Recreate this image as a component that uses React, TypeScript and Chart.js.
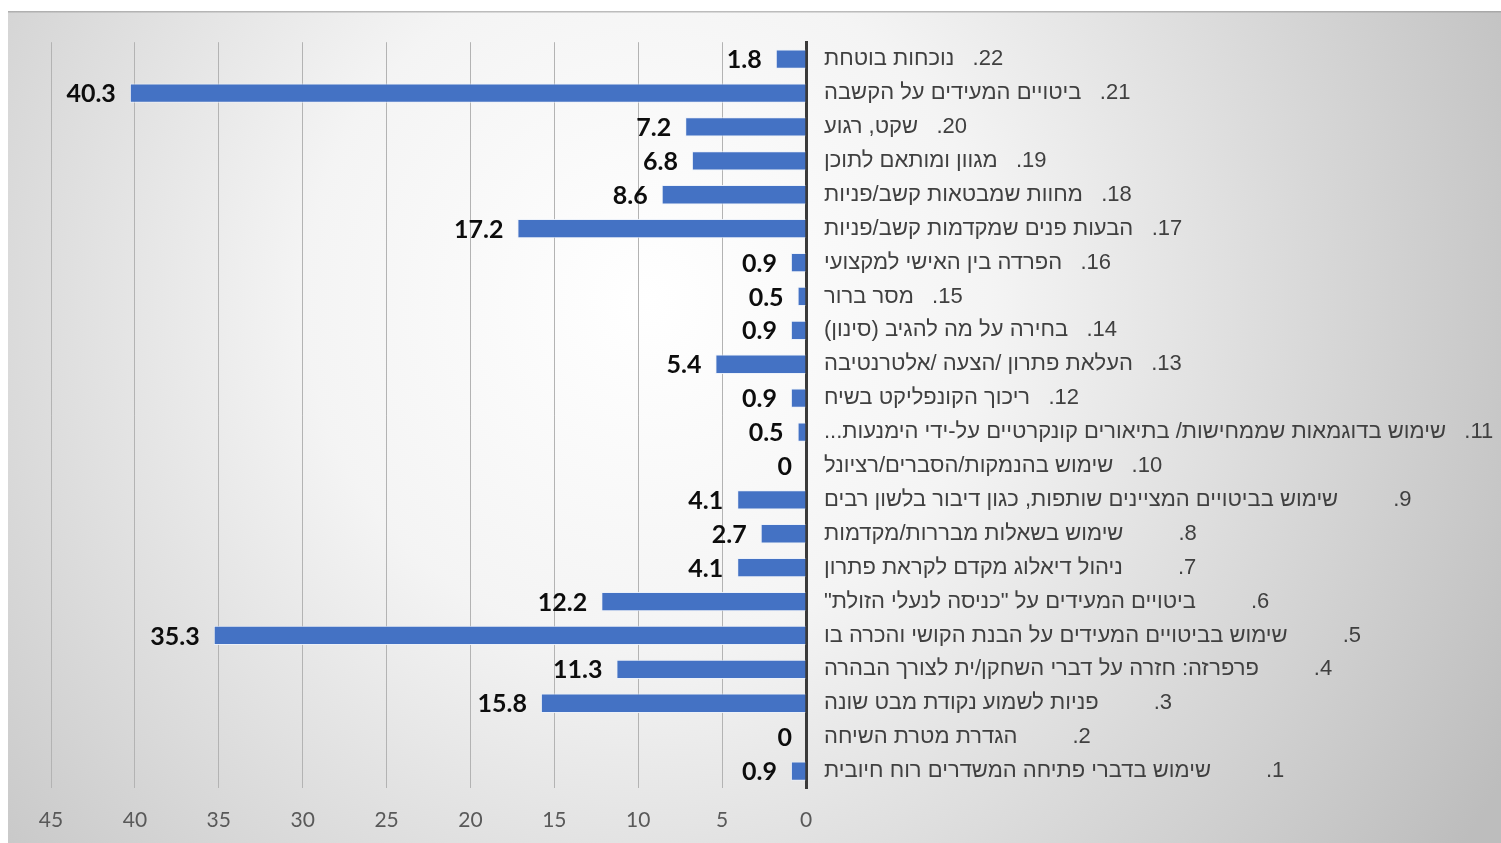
import React, { useEffect, useRef } from 'react';
import { Chart, registerables } from 'chart.js';

Chart.register(...registerables);

// Items 1..22 (item 1 at the bottom, item 22 at the top)
const itemTexts: string[] = [
  'שימוש בדברי פתיחה המשדרים רוח חיובית',
  'הגדרת מטרת השיחה',
  'פניות לשמוע נקודת מבט שונה',
  'פרפרזה: חזרה על דברי השחקן/ית לצורך הבהרה',
  'שימוש בביטויים המעידים על הבנת הקושי והכרה בו',
  'ביטויים המעידים על "כניסה לנעלי הזולת"',
  'ניהול דיאלוג מקדם לקראת פתרון',
  'שימוש בשאלות מבררות/מקדמות',
  'שימוש בביטויים המציינים שותפות, כגון דיבור בלשון רבים',
  'שימוש בהנמקות/הסברים/רציונל',
  'שימוש בדוגמאות שממחישות/ בתיאורים קונקרטיים על-ידי הימנעות...',
  'ריכוך הקונפליקט בשיח',
  'העלאת פתרון /הצעה /אלטרנטיבה',
  'בחירה על מה להגיב (סינון)',
  'מסר ברור',
  'הפרדה בין האישי למקצועי',
  'הבעות פנים שמקדמות קשב/פניות',
  'מחוות שמבטאות קשב/פניות',
  'מגוון ומותאם לתוכן',
  'שקט, רגוע',
  'ביטויים המעידים על הקשבה',
  'נוכחות בוטחת',
];

const values: number[] = [
  0.9, 0, 15.8, 11.3, 35.3, 12.2, 4.1, 2.7, 4.1, 0, 0.5,
  0.9, 5.4, 0.9, 0.5, 0.9, 17.2, 8.6, 6.8, 7.2, 40.3, 1.8,
];

const xMin = 0;
const xMax = 45;
const xStep = 5;

const RLE = '\u202B';
const PDF = '\u202C';

const categoryLabels: string[] = itemTexts.map((t, i) => {
  const gap = i < 9 ? '         ' : '   ';
  return `${RLE}${i + 1}.${gap}${t}${PDF}`;
});

const CANVAS_W = 1493;
const CANVAS_H = 832;

const backgroundPlugin = {
  id: 'bgGradient',
  beforeDraw(chart: any) {
    const { ctx, width, height } = chart;
    ctx.save();
    const g = ctx.createRadialGradient(640, 290, 0, 640, 290, 980);
    g.addColorStop(0, '#ffffff');
    g.addColorStop(0.35, '#f4f4f4');
    g.addColorStop(1, '#bdbdbd');
    ctx.fillStyle = g;
    ctx.fillRect(0, 0, width, height);
    ctx.fillStyle = 'rgba(150,150,150,0.6)';
    ctx.fillRect(0, 0, width, 1.5);
    ctx.restore();
  },
};

const dataLabelPlugin = {
  id: 'barValueLabels',
  afterDatasetsDraw(chart: any) {
    const { ctx } = chart;
    const meta = chart.getDatasetMeta(0);
    ctx.save();
    ctx.font = 'bold 25px Lato, "Liberation Sans", sans-serif';
    ctx.fillStyle = '#0d0d0d';
    ctx.textAlign = 'right';
    ctx.textBaseline = 'middle';
    meta.data.forEach((bar: any, i: number) => {
      const v = values[i];
      ctx.fillText(String(v), bar.x - 14, bar.y + 1);
    });
    ctx.restore();
  },
};

export default function App() {
  const canvasRef = useRef<HTMLCanvasElement | null>(null);

  useEffect(() => {
    const canvas = canvasRef.current;
    if (!canvas) return;
    const chart = new Chart(canvas, {
      type: 'bar',
      data: {
        labels: categoryLabels,
        datasets: [
          {
            data: values,
            backgroundColor: '#4472C4',
            borderColor: 'rgba(235,241,250,0.9)',
            borderWidth: 1,
            barPercentage: 0.57,
            categoryPercentage: 1,
          },
        ],
      },
      options: {
        indexAxis: 'y',
        animation: false,
        responsive: false,
        maintainAspectRatio: false,
        layout: { padding: { top: 30, left: 43, right: 0, bottom: 0 } },
        plugins: {
          legend: { display: false },
          tooltip: { enabled: false },
          title: { display: false },
        },
        scales: {
          x: {
            type: 'linear',
            reverse: true,
            min: xMin,
            max: xMax,
            ticks: {
              stepSize: xStep,
              color: '#595959',
              padding: 20,
              font: { family: 'Lato, "Open Sans", sans-serif', size: 21 },
              maxRotation: 0,
            },
            grid: { color: '#b3b3b3', lineWidth: 1, drawTicks: false },
            border: { display: false },
            afterFit(scale: any) {
              scale.height = 55;
            },
          },
          y: {
            type: 'category',
            position: 'right',
            reverse: true,
            ticks: {
              color: '#404040',
              padding: 18,
              font: { family: '"Liberation Sans", Arial, sans-serif', size: 22 },
              autoSkip: false,
            },
            grid: { display: false, drawTicks: false },
            border: { display: true, color: '#3a3a3a', width: 3 },
            afterFit(scale: any) {
              scale.width = 695;
            },
          },
        },
      },
      plugins: [backgroundPlugin, dataLabelPlugin],
    });
    return () => chart.destroy();
  }, []);

  return (
    <div
      style={{
        position: 'fixed',
        left: 8,
        top: 11,
        width: CANVAS_W,
        height: CANVAS_H,
      }}
    >
      <canvas ref={canvasRef} width={CANVAS_W} height={CANVAS_H} style={{ display: 'block' }} />
    </div>
  );
}
